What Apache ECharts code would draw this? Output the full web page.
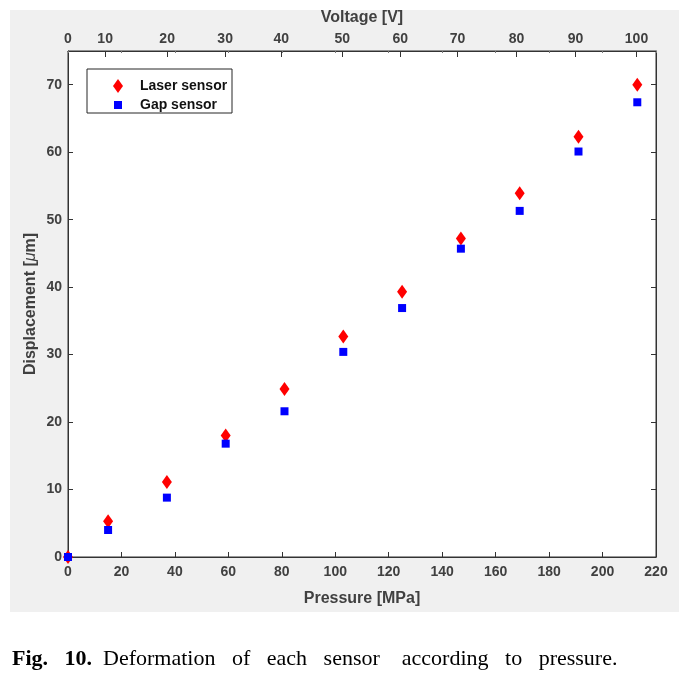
<!DOCTYPE html>
<html>
<head>
<meta charset="utf-8">
<script src="https://cdn.jsdelivr.net/npm/echarts@6/dist/echarts.min.js"></script>
<style>
html,body{margin:0;padding:0;background:#fff;}
#chart{width:688px;height:674px;}
</style>
</head>
<body>
<div id="chart"></div>
<script>
// Data
const pressure = [0, 15, 37, 59, 81, 103, 125, 147, 169, 191, 213];
const laserSensor = [0, 5.3, 11.1, 18.0, 24.9, 32.7, 39.3, 47.2, 53.9, 62.3, 70.0];
const gapSensor = [0, 4.0, 8.8, 16.8, 21.6, 30.4, 36.9, 45.7, 51.3, 60.1, 67.4];
const voltageLabels = [0, 10, 20, 30, 40, 50, 60, 70, 80, 90, 100];
const voltageAtPressure = [0, 13.9, 37.1, 58.8, 79.8, 102.6, 124.3, 145.7, 167.8, 189.9, 212.7];

const laserPts = pressure.map((p, i) => [p, laserSensor[i]]);
const gapPts = pressure.map((p, i) => [p, gapSensor[i]]);

const axisColor = '#333333';
const labelColor = '#404040';
const font = 'Arial, "Liberation Sans", Helvetica, sans-serif';

const chart = echarts.init(document.getElementById('chart'), null, {renderer: 'canvas'});
chart.setOption({
  backgroundColor: '#ffffff',
  animation: false,
  title: {
    left: 12,
    top: 648,
    padding: 0,
    text: '{b|Fig.   10.}{n|  Deformation   of   each   sensor    according   to   pressure.}',
    textStyle: {
      rich: {
        b: {fontFamily: '"Liberation Serif", "Times New Roman", serif', fontWeight: 'bold', fontSize: 22, color: '#000'},
        n: {fontFamily: '"Liberation Serif", "Times New Roman", serif', fontWeight: 'normal', fontSize: 22, color: '#000'}
      }
    }
  },
  graphic: [
    {type: 'rect', z: -10, silent: true, shape: {x: 10, y: 10, width: 669, height: 602}, style: {fill: '#f0f0f0'}},
    {type: 'rect', z: 3, silent: true, shape: {x: 87, y: 69, width: 145, height: 44}, style: {fill: '#ffffff', stroke: '#262626', lineWidth: 1}}
  ],
  grid: {
    left: 68, right: 32, top: 51, bottom: 117,
    show: true, backgroundColor: '#ffffff', borderColor: axisColor, borderWidth: 1
  },
  legend: [
    {
      data: ['Laser sensor'], left: 108, top: 74, orient: 'vertical',
      itemWidth: 10, itemHeight: 14, symbolKeepAspect: false,
      textStyle: {fontFamily: font, fontWeight: 'bold', fontSize: 14, color: '#111', padding: [0, 0, 0, 12]},
      z: 5
    },
    {
      data: ['Gap sensor'], left: 109, top: 93, orient: 'vertical',
      itemWidth: 8, itemHeight: 8, symbolKeepAspect: false,
      textStyle: {fontFamily: font, fontWeight: 'bold', fontSize: 14, color: '#111', padding: [0, 0, 0, 13]},
      z: 5
    }
  ],
  xAxis: [
    {
      type: 'value', position: 'bottom', min: 0, max: 220, interval: 20,
      name: 'Pressure [MPa]', nameLocation: 'middle', nameGap: 34, nameMoveOverlap: false,
      nameTextStyle: {fontFamily: font, fontWeight: 'bold', fontSize: 16, color: labelColor},
      axisLine: {show: true, onZero: false, lineStyle: {color: axisColor, width: 1}},
      axisTick: {show: true, inside: true, length: 5, lineStyle: {color: axisColor}},
      axisLabel: {fontFamily: font, fontWeight: 'bold', fontSize: 14, color: labelColor, margin: 8},
      splitLine: {show: false}
    },
    {
      type: 'value', position: 'top', min: 0, max: 220,
      name: 'Voltage [V]', nameLocation: 'middle', nameGap: 25, nameMoveOverlap: false,
      nameTextStyle: {fontFamily: font, fontWeight: 'bold', fontSize: 16, color: labelColor},
      axisLine: {show: true, onZero: false, lineStyle: {color: axisColor, width: 1}},
      axisTick: {show: true, inside: true, length: 6, customValues: voltageAtPressure, lineStyle: {color: axisColor}},
      axisLabel: {
        fontFamily: font, fontWeight: 'bold', fontSize: 14, color: labelColor, margin: 5,
        customValues: voltageAtPressure,
        formatter: function (v) {
          let best = 0, d = Infinity;
          voltageAtPressure.forEach((p, i) => { const dd = Math.abs(p - v); if (dd < d) { d = dd; best = i; } });
          return String(voltageLabels[best]);
        }
      },
      splitLine: {show: false}
    },
    {
      type: 'value', position: 'top', min: 0, max: 220, interval: 20,
      axisLine: {show: false, onZero: false},
      axisTick: {show: true, inside: true, length: 2, lineStyle: {color: '#777'}},
      axisLabel: {show: false},
      splitLine: {show: false}
    }
  ],
  yAxis: [
    {
      type: 'value', position: 'left', min: 0, max: 75, interval: 10,
      name: 'Displacement [{i|μ}m]', nameLocation: 'middle', nameGap: 29, nameMoveOverlap: false,
      nameTextStyle: {
        fontFamily: font, fontWeight: 'bold', fontSize: 16, color: labelColor,
        rich: {i: {fontFamily: font, fontStyle: 'italic', fontWeight: 'normal', fontSize: 16, color: labelColor}}
      },
      axisLine: {show: true, onZero: false, lineStyle: {color: axisColor, width: 1}},
      axisTick: {show: true, inside: true, length: 5, lineStyle: {color: axisColor}},
      axisLabel: {fontFamily: font, fontWeight: 'bold', fontSize: 14, color: labelColor, margin: 6, showMaxLabel: false},
      splitLine: {show: false}
    },
    {
      type: 'value', position: 'right', min: 0, max: 75, interval: 10,
      axisLine: {show: true, onZero: false, lineStyle: {color: axisColor, width: 1}},
      axisTick: {show: true, inside: true, length: 5, lineStyle: {color: axisColor}},
      axisLabel: {show: false},
      splitLine: {show: false}
    }
  ],
  series: [
    {
      name: 'Laser sensor', type: 'scatter', xAxisIndex: 0, yAxisIndex: 0,
      symbol: 'diamond', symbolSize: [10, 14], clip: false,
      itemStyle: {color: '#ff0000', opacity: 1},
      data: laserPts
    },
    {
      name: 'Gap sensor', type: 'scatter', xAxisIndex: 0, yAxisIndex: 0,
      symbol: 'rect', symbolSize: 8, clip: false,
      itemStyle: {color: '#0000ff', opacity: 1},
      data: gapPts
    }
  ]
});
</script>
</body>
</html>
